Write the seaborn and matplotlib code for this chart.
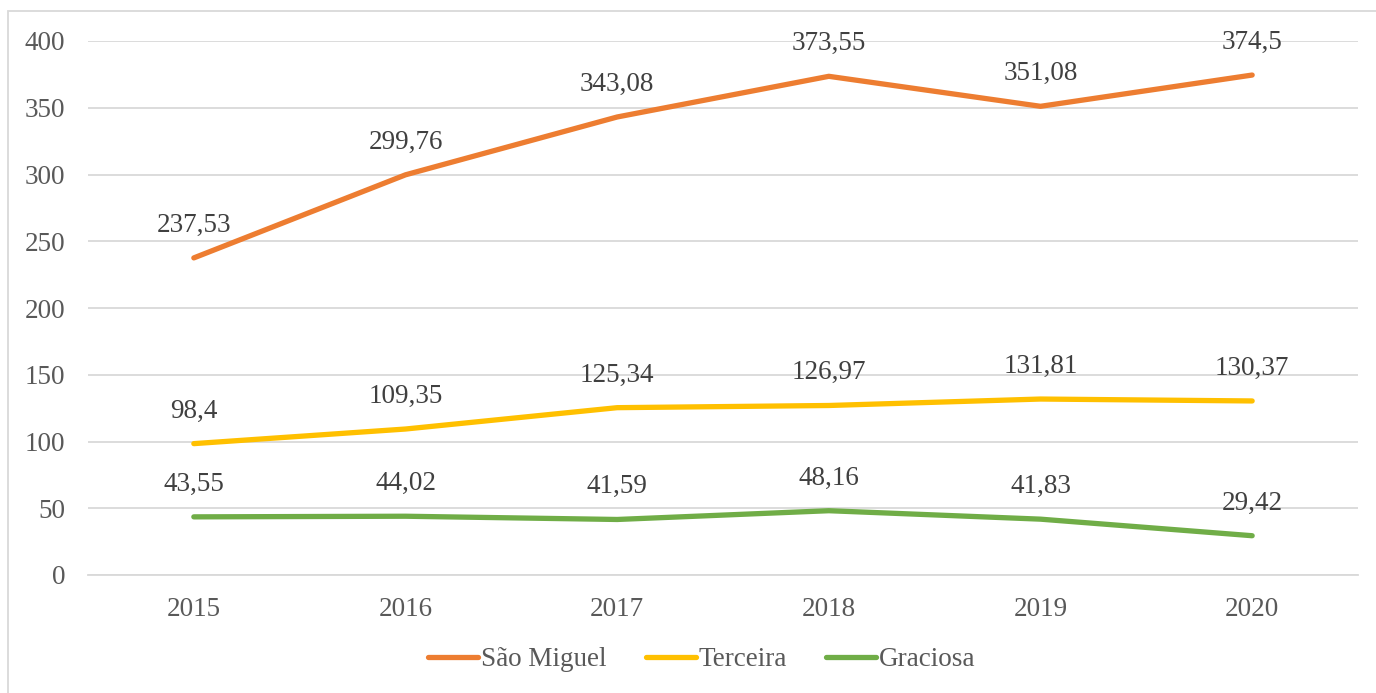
import pandas as pd
import numpy as np
import matplotlib
matplotlib.use("Agg")
import matplotlib.pyplot as plt
import seaborn as sns
from matplotlib.patches import Rectangle

anos = ["2015", "2016", "2017", "2018", "2019", "2020"]
sao_miguel = [237.53, 299.76, 343.08, 373.55, 351.08, 374.5]
terceira = [98.4, 109.35, 125.34, 126.97, 131.81, 130.37]
graciosa = [43.55, 44.02, 41.59, 48.16, 41.83, 29.42]
ilhas = ["São Miguel", "Terceira", "Graciosa"]
cores = ["#ED7D31", "#FFC000", "#70AD47"]

df = pd.DataFrame({
    "ano": anos * 3,
    "valor": sao_miguel + terceira + graciosa,
    "ilha": [ilhas[0]] * 6 + [ilhas[1]] * 6 + [ilhas[2]] * 6,
})

sns.set_theme(style="white")
plt.rcParams["font.family"] = ["Liberation Serif", "DejaVu Serif"]
fs = 19.5

fig = plt.figure(figsize=(13.76, 6.93), dpi=100)
ax = fig.add_axes([88 / 1376, 1 - 575 / 693, (1358 - 88) / 1376, (575 - 41) / 693])

sns.lineplot(data=df, x="ano", y="valor", hue="ilha", palette=cores, sort=False,
             linewidth=3.8, ax=ax, legend=False, solid_capstyle="round")

for serie in [sao_miguel, terceira, graciosa]:
    for i, v in enumerate(serie):
        txt = f"{v:g}".replace(".", ",")
        ax.annotate(txt, (i, v), xytext=(0, 23.5), textcoords="offset points",
                    ha="center", va="center", fontsize=fs, color="#404040")

ax.set_xlim(-0.5, 5.5)
ax.set_ylim(0, 400)
ax.set_yticks(range(0, 401, 50))
ax.yaxis.grid(True, color="#D9D9D9", linewidth=1.3)
ax.xaxis.grid(False)
for s in ["left", "right", "top"]:
    ax.spines[s].set_visible(False)
ax.spines["bottom"].set_color("#D9D9D9")
ax.spines["bottom"].set_linewidth(1.3)
ax.tick_params(axis="both", length=0, labelsize=fs, colors="#595959")
ax.tick_params(axis="y", pad=16.5)
ax.tick_params(axis="x", pad=16)
ax.set_xlabel("")
ax.set_ylabel("")

handles = [plt.Line2D([], [], color=c, linewidth=3.8, solid_capstyle="round") for c in cores]
leg = fig.legend(handles, ilhas, loc="center", bbox_to_anchor=(0.51, 1 - 660 / 693),
                 ncol=3, frameon=False, fontsize=fs, handlelength=1.85,
                 handletextpad=0.1, columnspacing=1.45)
for t in leg.get_texts():
    t.set_color("#595959")

fig.patches.append(Rectangle((8 / 1376, -0.1), 1.2, 1.1 - 11 / 693, transform=fig.transFigure,
                             fill=False, edgecolor="#D9D9D9", linewidth=1.3))

fig.savefig("out.png", dpi=100)
